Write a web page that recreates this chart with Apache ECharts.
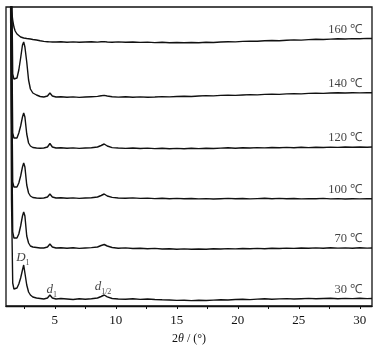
<!DOCTYPE html>
<html><head><meta charset="utf-8">
<script src="https://cdn.jsdelivr.net/npm/echarts@6/dist/echarts.min.js"></script>
<style>html,body{margin:0;padding:0;background:#fff}#c{width:390px;height:353px}</style>
</head><body><div id="c"></div>
<script>
// 2θ positions (degrees)
const twoTheta = [1.3,1.45,1.55,1.65,1.75,1.9,2.05,2.2,2.35,2.45,2.55,2.7,2.85,3.0,3.2,3.5,3.8,4.1,4.4,4.6,4.8,5.1,
  5.5,6,6.5,7,7.5,8,8.5,8.8,9.05,9.3,9.7,10.2,10.8,11.4,12,12.6,13.2,13.8,14.4,15,15.6,16.2,16.8,17.4,18,18.6,19.2,19.8,20.4,21,21.6,22.2,22.8,23.4,24,24.6,25.2,25.8,26.4,27,27.6,28.2,28.8,29.4,30,30.6,31];

// intensities (a.u., vertically offset)
const s30 = [500,106,23,17,16,18,22,28,36,41,40,21,14,11,9,8,7.5,7,8,11,8,7,
  7.5,7,6.5,7.2,6.8,7.3,8,9.5,11,9.2,7.5,7,6.8,7.2,6.6,7,6.5,6.2,6,5.6,5.8,5.4,5.7,5.5,5.9,6.2,6,6.5,6.8,6.4,6.9,7.2,6.8,7.1,7.4,7,7.3,7.6,7.2,7.5,7.8,7.3,7.6,7.4,7.7,7.4,7.5];
const s70 = [500,200,74,68,66,68,72,80,90,94,90,70,63,60,59,58.5,58,58,59,62,59,58,
  58.3,57.8,58.2,57.6,58,58.4,59,60.5,61.5,60,58.5,57.8,58.1,57.5,57.8,57.3,57.6,57,57.3,56.8,57.1,56.7,57,56.8,57.2,57,57.4,57.1,57.5,57.3,57.6,57.2,57.7,57.5,57.9,57.6,58,57.7,58.1,57.8,58.2,57.9,58.1,57.8,58.2,57.9,58];
const s100 = [500,250,124,119,117,119,123,130,139,143,139,121,113,110,108.5,108,107.8,108,109,112,109,108,
  108.2,107.7,108.1,107.6,108,108.3,109,110.5,112,110,108.6,108,107.7,108.1,107.6,107.9,107.4,107.8,107.3,107.6,107.2,107.5,107.1,107.4,107,107.3,107.6,107.2,107.5,107.1,107.4,107.7,107.3,107.6,107.2,107.5,107.1,107.4,107.2,107.6,107.1,107.4,107,107.3,107.1,107.4,107.2];
const s120 = [500,300,173,168,166,168,173,180,189,193,189,172,163,160,158.5,158,157.7,158,159,162.5,159,158,
  158.2,157.8,158.1,157.6,158,158.3,159,160.5,162,160,158.4,158,157.6,158,157.5,157.9,157.4,157.8,157.3,157.6,157.3,157.7,157.4,157.8,157.5,157.9,158.2,157.8,158.3,158,158.4,158.1,158.5,158.2,158.6,158.3,158.7,158.4,158.8,158.5,158.9,158.6,159,158.7,159,158.8,159];
const s140 = [600,350,232,227,225,228,236,248,261,264,259,244,226,217,213,211,209.5,209,210,213,210,209,
  209.2,208.7,209.1,208.6,209,209.3,209.6,210.2,210.6,210,209.3,208.9,209.2,208.8,209.1,208.7,209,209.4,209.1,209.5,209.8,209.5,210,210.4,210.1,210.6,210.9,210.6,211,211.4,211.1,211.6,211.9,211.6,212.1,212.4,212.1,212.6,212.9,212.6,213,213.3,213,213.3,213.1,213.4,213.2];
const s160 = [700,296,286,279,275,272,270,269,268.5,268,268,267.5,267.2,267,266.5,266,265.2,264.6,264.3,264.1,264,264,
  264.2,263.8,264.1,263.7,264,264.3,263.9,264.2,264.4,264,263.8,264.1,263.7,264,263.6,263.9,263.4,263.7,263.3,263.5,263.2,263.5,263.3,263.7,263.5,264,264.3,264.1,264.6,264.9,264.7,265.2,265.5,265.3,265.8,266.1,265.9,266.4,266.7,266.5,266.9,267.2,267,267.4,267.3,267.6,267.5];

const seriesNames = ['160 ℃','140 ℃','120 ℃','100 ℃','70 ℃','30 ℃'];
const seriesData = [s160,s140,s120,s100,s70,s30];
const xTickLabels = [5,10,15,20,25,30];
const xTickMarks = [2.5,5,7.5,10,12.5,15,17.5,20,22.5,25,27.5,30];
const peakNames = ['D','d','d'];
const peakSubs = ['1','1','1/2'];
const peakTheta = [2.38,4.75,8.95];

const FONT = 'Liberation Serif';
const chart = echarts.init(document.getElementById('c'), null, {renderer:'canvas'});

const lineSeries = seriesData.map((arr, k) => ({
  name: seriesNames[k], type: 'line', showSymbol: false, silent: true,
  clip: true, animation: false,
  lineStyle: {color: '#111', width: 1.4},
  data: twoTheta.map((x, i) => [x, arr[i]])
}));

const tempLabelSeries = {
  type: 'scatter', symbolSize: 0, silent: true, animation: false,
  data: seriesData.map((arr, k) => [30.2, arr[arr.length - 1] + 9, seriesNames[k]]),
  label: {show: true, position: [0, 0], align: 'right', verticalAlign: 'middle',
    formatter: p => p.data[2], fontFamily: FONT, fontSize: 12.5, color: '#111'}
};

const peakYOffset = [7, 8, 8];
const peakLabelSeries = {
  type: 'scatter', symbolSize: 0, silent: true, animation: false,
  data: peakTheta.map((t, k) => {
    let j = 0; let best = 1e9;
    twoTheta.forEach((x, i) => { if (Math.abs(x - t) < best) { best = Math.abs(x - t); j = i; } });
    return [t, Math.max(s30[j], s30[Math.min(j+1, s30.length-1)]) + peakYOffset[k], k];
  }),
  label: {show: true, position: [0, 0], align: 'center', verticalAlign: 'middle',
    formatter: p => '{it|' + peakNames[p.data[2]] + '}{sub|' + peakSubs[p.data[2]] + '}',
    rich: {
      it: {fontFamily: FONT, fontStyle: 'italic', fontSize: 13, color: '#111'},
      sub: {fontFamily: FONT, fontSize: 8, color: '#111', padding: [9, 0, 0, 0]}
    }}
};

chart.setOption({
  backgroundColor: '#fff',
  animation: false,
  grid: {left: 6, right: 18, top: 7, bottom: 47, show: true, borderColor: '#111', borderWidth: 1.3, containLabel: false},
  xAxis: {
    type: 'value', min: 1, max: 31,
    name: '2{it|θ} / (°)', nameLocation: 'middle', nameGap: 27,
    nameTextStyle: {fontFamily: FONT, fontSize: 12, color: '#111',
      rich: {it: {fontFamily: FONT, fontStyle: 'italic', fontSize: 12, color: '#111'}}},
    axisLine: {show: true, lineStyle: {color: '#111', width: 1.3}},
    axisTick: {show: true, customValues: xTickMarks, length: 3, lineStyle: {color: '#111', width: 1}},
    axisLabel: {show: true, customValues: xTickLabels, margin: 8, fontFamily: FONT, fontSize: 13, color: '#111'},
    splitLine: {show: false}
  },
  yAxis: {type: 'value', min: 0, max: 299, show: false},
  series: [...lineSeries, tempLabelSeries, peakLabelSeries]
});
</script></body></html>
